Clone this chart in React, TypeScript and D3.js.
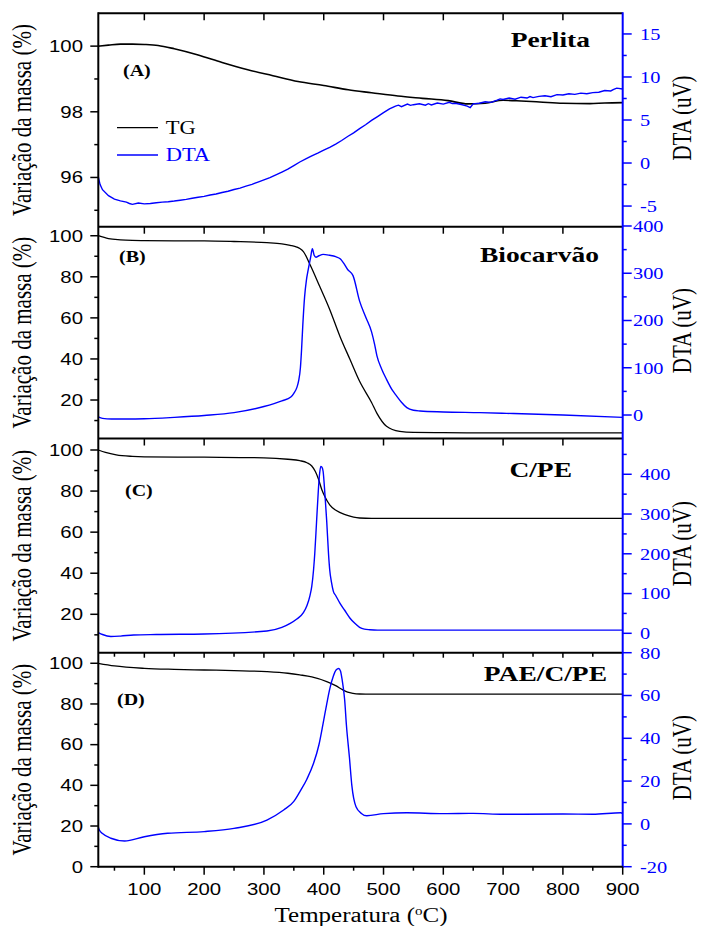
import React from "react";
import * as d3 from "d3";

// ---------- DATA ----------
const xTickValues = [100, 200, 300, 400, 500, 600, 700, 800, 900];
const xMinorValues = [50, 150, 250, 350, 450, 550, 650, 750, 850];

const panelTitles = ["Perlita", "Biocarvão", "C/PE", "PAE/C/PE"];
const panelLetters = ["(A)", "(B)", "(C)", "(D)"];

// Panel A – Perlita
const perlitaTgT = [23, 40, 60, 80, 100, 123, 150, 190, 230, 273, 315, 357, 400, 441, 480, 524, 565, 608, 641, 670, 700, 730, 761, 800, 845, 870, 900];
const perlitaTg = [100.0, 100.03, 100.06, 100.06, 100.05, 100.02, 99.92, 99.73, 99.5, 99.28, 99.1, 98.92, 98.8, 98.67, 98.58, 98.48, 98.41, 98.34, 98.24, 98.26, 98.35, 98.33, 98.3, 98.26, 98.25, 98.27, 98.28];
const perlitaDtaT = [23, 26, 30, 40, 50, 60, 70, 75, 80, 90, 100, 110, 120, 130, 140, 150, 160, 170, 180, 190, 200, 210, 220, 230, 240, 250, 260, 270, 280, 290, 300, 310, 320, 330, 340, 350, 360, 370, 380, 390, 400, 410, 420, 430, 440, 450, 460, 470, 480, 490, 500, 510, 520, 525, 530, 540, 545, 550, 560, 570, 575, 580, 590, 600, 610, 615, 620, 630, 640, 645, 650, 660, 670, 680, 690, 695, 700, 710, 720, 730, 740, 745, 750, 760, 770, 780, 790, 800, 810, 820, 830, 840, 850, 860, 870, 880, 885, 890, 900];
const perlitaDta = [-1.6, -2.5, -3.1, -3.8, -4.2, -4.4, -4.55, -4.7, -4.8, -4.65, -4.75, -4.7, -4.62, -4.55, -4.5, -4.42, -4.32, -4.22, -4.1, -3.98, -3.88, -3.72, -3.6, -3.42, -3.28, -3.08, -2.92, -2.68, -2.48, -2.22, -1.95, -1.7, -1.38, -1.05, -0.72, -0.3, 0.12, 0.48, 0.82, 1.15, 1.5, 1.82, 2.2, 2.62, 3.08, 3.5, 4.0, 4.45, 4.95, 5.4, 5.85, 6.3, 6.62, 6.72, 6.55, 6.85, 6.7, 6.78, 6.88, 6.72, 6.9, 6.75, 6.98, 6.85, 7.05, 6.9, 6.95, 6.8, 6.62, 6.45, 6.88, 6.95, 7.12, 7.05, 7.3, 7.45, 7.38, 7.55, 7.42, 7.65, 7.55, 7.72, 7.6, 7.75, 7.82, 7.7, 7.95, 7.9, 8.05, 7.98, 8.12, 8.05, 8.18, 8.22, 8.42, 8.38, 8.55, 8.7, 8.6];

// Panel B – Biocarvão
const bioTgT = [23, 40, 60, 80, 100, 150, 200, 250, 305, 330, 344, 355, 360, 366, 377, 393, 410, 427, 444, 460, 480, 489, 505, 527, 550, 600, 700, 800, 900];
const bioTg = [100, 98.6, 98.0, 97.7, 97.6, 97.5, 97.5, 97.2, 96.6, 96.0, 95.3, 94.5, 93.8, 92.3, 86.0, 75.5, 64.1, 51.1, 39.7, 29.1, 18.8, 13.5, 7.2, 4.7, 4.2, 4.1, 4.0, 4.0, 4.0];
const bioDtaT = [23, 30, 45, 70, 100, 150, 200, 250, 300, 330, 345, 350, 355, 358, 361, 363, 365, 368, 371, 374, 378, 381, 384, 387, 392, 399, 410, 420, 428, 433, 440, 449, 460, 470, 480, 485, 489, 497, 505, 515, 522, 530, 539, 550, 561, 600, 661, 706, 800, 900];
const bioDta = [-4, -7, -8.5, -8.5, -8, -5, -1, 5, 18, 30, 38, 46, 58, 72, 100, 140, 190, 250, 285, 307, 333, 352, 338, 334, 337, 340, 338, 335, 330, 322, 308, 295, 241, 208, 176, 150, 125, 97, 75.5, 52, 40, 27, 15.5, 10, 8.5, 6.5, 5, 3.5, 0, -5];

// Panel C – C/PE
const cpeTgT = [23, 35, 53, 80, 100, 200, 300, 340, 360, 372, 380, 386, 391, 397, 402, 410, 421, 437, 450, 460, 480, 600, 900];
const cpeTg = [100, 98.8, 97.6, 96.9, 96.7, 96.5, 96.2, 95.5, 94.8, 93.8, 92.2, 89.5, 86, 80.5, 77.2, 73.3, 70.5, 68.4, 67.3, 66.9, 66.7, 66.7, 66.7];
const cpeDtaT = [23, 30, 44, 60, 82, 120, 200, 305, 330, 344, 355, 366, 372, 377, 380, 383, 385, 388, 391, 393, 395, 397, 399, 402, 405, 408, 410, 413, 416, 420, 427, 435, 444, 452, 460, 468, 477, 490, 550, 700, 900];
const cpeDta = [2, -3, -8, -7, -4.3, -3, -1.8, 5.8, 15, 25, 36, 52, 70, 95, 118, 160, 200, 280, 360, 400, 420, 418, 407, 350, 282, 200, 160, 128, 106, 95, 76, 58, 38, 25, 15, 10.5, 9, 8, 8, 8, 8];

// Panel D – PAE/C/PE
const paeTgT = [23, 50, 100, 150, 200, 250, 305, 340, 360, 380, 405, 420, 432, 440, 449, 460, 480, 600, 900];
const paeTg = [100, 98.7, 97.5, 97.0, 96.7, 96.4, 95.9, 95.1, 94.3, 93.3, 91.0, 89.0, 86.9, 85.8, 85.2, 84.9, 84.8, 84.8, 84.8];
const paeDtaT = [23, 25, 30, 44, 67, 100, 139, 200, 250, 305, 333, 350, 360, 372, 383, 392, 399, 405, 410, 416, 421, 425, 428, 431, 435, 438, 443, 447, 454, 463, 472, 500, 539, 600, 650, 700, 800, 850, 897, 900];
const paeDta = [-1.5, -3, -4.5, -6.7, -8, -6, -4.4, -3.6, -2.1, 1.8, 6.5, 10.5, 15, 21, 28.3, 37, 47, 56, 63, 69, 72, 72.6, 71.5, 67, 58, 46, 31, 18, 8, 4.9, 3.8, 4.8, 5.2, 4.8, 4.9, 4.5, 4.6, 4.5, 5.2, 4.8];

// Axis tick values
const leftTicksA = [96, 98, 100];
const leftMinorA = [95, 97, 99];
const leftTicks = [20, 40, 60, 80, 100];
const leftMinor = [10, 30, 50, 70, 90];
const leftTicksD = [0, 20, 40, 60, 80, 100];
const rightTicksA = [-5, 0, 5, 10, 15];
const rightMinorA = [-2.5, 2.5, 7.5, 12.5];
const rightTicksB = [0, 100, 200, 300, 400];
const rightMinorB = [50, 150, 250, 350];
const rightTicksC = [0, 100, 200, 300, 400];
const rightMinorC = [50, 150, 250, 350, 450];
const rightTicksD = [-20, 0, 20, 40, 60, 80];
const rightMinorD = [-10, 10, 30, 50, 70];

// ---------- LAYOUT ----------
const W = 704;
const H = 926;
const XL = 98.3;
const XR = 622.7;
const BLUE = "#0000ff";
const SERIF = "'Liberation Serif', 'Times New Roman', serif";
const SANS = "'Liberation Sans', Arial, sans-serif";
const SX = 1.25;

const x = d3.scaleLinear().domain([23, 900]).range([XL, XR]);

type Panel = {
  top: number;
  bottom: number;
  left: [number, number];
  right: [number, number];
  lt: number[];
  lm: number[];
  rt: number[];
  rm: number[];
  tgT: number[];
  tg: number[];
  dT: number[];
  d: number[];
  letter: string;
  letterPos: [number, number];
  title: string;
  titlePos: [number, number];
  rightLabelX: number;
  noisy: boolean;
};

const panels: Panel[] = [
  { top: 13.3, bottom: 226.7, left: [94.5, 101.0], right: [-7.4, 17.4], lt: leftTicksA, lm: leftMinorA, rt: rightTicksA, rm: rightMinorA, tgT: perlitaTgT, tg: perlitaTg, dT: perlitaDtaT, d: perlitaDta, letter: panelLetters[0], letterPos: [123, 76], title: panelTitles[0], titlePos: [590, 47], rightLabelX: 640, noisy: true },
  { top: 226.7, bottom: 438.5, left: [1.26, 104.4], right: [-49.7, 398.5], lt: leftTicks, lm: leftMinor, rt: rightTicksB, rm: rightMinorB, tgT: bioTgT, tg: bioTg, dT: bioDtaT, d: bioDta, letter: panelLetters[1], letterPos: [119, 262], title: panelTitles[1], titlePos: [599, 262], rightLabelX: 633, noisy: false },
  { top: 438.5, bottom: 652.7, left: [1.3, 105.6], right: [-48.8, 490], lt: leftTicks, lm: leftMinor, rt: rightTicksC, rm: rightMinorC, tgT: cpeTgT, tg: cpeTg, dT: cpeDtaT, d: cpeDta, letter: panelLetters[2], letterPos: [125, 496], title: panelTitles[2], titlePos: [572, 477], rightLabelX: 640, noisy: false },
  { top: 652.7, bottom: 866.7, left: [0, 105.2], right: [-20, 80], lt: leftTicksD, lm: leftMinor, rt: rightTicksD, rm: rightMinorD, tgT: paeTgT, tg: paeTg, dT: paeDtaT, d: paeDta, letter: panelLetters[3], letterPos: [117, 705], title: panelTitles[3], titlePos: [607, 681], rightLabelX: 640, noisy: false },
];

function SText(props: {
  x: number;
  y: number;
  anchor?: string;
  size: number;
  family?: string;
  weight?: string | number;
  fill?: string;
  rotate?: boolean;
  children: React.ReactNode;
}) {
  const { x: tx, y: ty, anchor = "start", size, family = SERIF, weight = "normal", fill = "#000", rotate = false, children } = props;
  return (
    <text
      transform={`translate(${tx},${ty}) scale(${SX},1)${rotate ? " rotate(-90)" : ""}`}
      textAnchor={anchor}
      fontSize={size}
      fontFamily={family}
      fontWeight={weight}
      fill={fill}
    >
      {children}
    </text>
  );
}

function PanelView({ p, i }: { p: Panel; i: number }) {
  const yL = d3.scaleLinear().domain(p.left).range([p.bottom, p.top]);
  const yR = d3.scaleLinear().domain(p.right).range([p.bottom, p.top]);
  const curve = p.noisy ? d3.curveLinear : d3.curveMonotoneX;
  const tgLine = d3
    .line<number>()
    .x((_, k) => x(p.tgT[k]))
    .y((v) => yL(v))
    .curve(d3.curveMonotoneX);
  const dtaLine = d3
    .line<number>()
    .x((_, k) => x(p.dT[k]))
    .y((v) => yR(v))
    .curve(curve);
  const cy = (p.top + p.bottom) / 2;
  const clipId = `clip${i}`;
  const isLast = i === panels.length - 1;
  return (
    <g>
      <defs>
        <clipPath id={clipId}>
          <rect x={XL} y={p.top} width={XR - XL} height={p.bottom - p.top} />
        </clipPath>
      </defs>
      <g clipPath={`url(#${clipId})`}>
        <path d={tgLine(p.tg) || ""} fill="none" stroke="#000" strokeWidth={p.noisy ? 1.6 : 1.3} />
        <path d={dtaLine(p.d) || ""} fill="none" stroke={BLUE} strokeWidth={1.4} />
      </g>
      {/* top border with inward ticks */}
      <line x1={XL} x2={XR} y1={p.top} y2={p.top} stroke="#000" strokeWidth={2} />
      {xTickValues.filter((t) => t < 900).map((t) => (
        <line key={"tt" + t} x1={x(t)} x2={x(t)} y1={p.top} y2={p.top + (isLast ? 5 : 7)} stroke="#000" strokeWidth={1.5} />
      ))}
      {isLast &&
        xMinorValues.map((t) => (
          <line key={"tm" + t} x1={x(t)} x2={x(t)} y1={p.top} y2={p.top + 4} stroke="#000" strokeWidth={1.5} />
        ))}
      {/* left ticks */}
      {p.lt.map((v) => (
        <g key={"l" + v}>
          <line x1={XL - 8} x2={XL} y1={yL(v)} y2={yL(v)} stroke="#000" strokeWidth={1.5} />
          <SText x={83} y={yL(v) + 5.8} anchor="end" size={16.3} family={SANS}>
            {v}
          </SText>
        </g>
      ))}
      {p.lm.map((v) => (
        <line key={"lm" + v} x1={XL - 4} x2={XL} y1={yL(v)} y2={yL(v)} stroke="#000" strokeWidth={1.5} />
      ))}
      {/* right ticks */}
      {p.rt.map((v) => (
        <g key={"r" + v}>
          <line x1={XR} x2={XR + 9} y1={yR(v)} y2={yR(v)} stroke={BLUE} strokeWidth={1.5} />
          <SText x={p.rightLabelX} y={yR(v) + 5.8} anchor="start" size={16.3} fill={BLUE} family={SERIF}>
            {v}
          </SText>
        </g>
      ))}
      {p.rm.map((v) => (
        <line key={"rm" + v} x1={XR} x2={XR + 4} y1={yR(v)} y2={yR(v)} stroke={BLUE} strokeWidth={1.5} />
      ))}
      {/* axis titles */}
      <SText x={31} y={cy} anchor="middle" size={21} rotate>
        Variação da massa (%)
      </SText>
      <SText x={691} y={cy - 2} anchor="middle" size={21} rotate>
        DTA (uV)
      </SText>
      {/* panel labels */}
      <SText x={p.letterPos[0]} y={p.letterPos[1]} size={16} weight="bold">
        {p.letter}
      </SText>
      <SText x={p.titlePos[0]} y={p.titlePos[1]} anchor="end" size={22} weight="bold">
        {p.title}
      </SText>
    </g>
  );
}

export default function App() {
  const bottom = panels[panels.length - 1].bottom;
  const top = panels[0].top;
  return (
    <svg
      width={W}
      height={H}
      viewBox={`0 0 ${W} ${H}`}
      style={{ position: "absolute", left: 0, top: 0, background: "#fff" }}
    >
      <rect x={0} y={0} width={W} height={H} fill="#fff" />
      {panels.map((p, i) => (
        <PanelView key={i} p={p} i={i} />
      ))}
      {/* left spine */}
      <line x1={XL} x2={XL} y1={top - 1} y2={bottom + 1} stroke="#000" strokeWidth={2} />
      {/* right spine */}
      <line x1={XR} x2={XR} y1={top - 1} y2={bottom + 1} stroke={BLUE} strokeWidth={2} />
      {/* bottom axis */}
      <line x1={XL} x2={XR} y1={bottom} y2={bottom} stroke="#000" strokeWidth={2} />
      {xTickValues.map((t) => (
        <g key={"bx" + t}>
          <line x1={x(t)} x2={x(t)} y1={bottom} y2={bottom + 8} stroke="#000" strokeWidth={1.5} />
          <SText x={x(t)} y={895} anchor="middle" size={16.3} family={SANS}>
            {t}
          </SText>
        </g>
      ))}
      {xMinorValues.map((t) => (
        <line key={"bm" + t} x1={x(t)} x2={x(t)} y1={bottom} y2={bottom + 4} stroke="#000" strokeWidth={1.5} />
      ))}
      <SText x={361} y={922} anchor="middle" size={20}>
        Temperatura (<tspan dy={-7} fontSize={12}>o</tspan>
        <tspan dy={7}>C)</tspan>
      </SText>
      {/* legend in panel A */}
      <line x1={117} x2={158} y1={127.7} y2={127.7} stroke="#000" strokeWidth={1.3} />
      <SText x={165.7} y={133.5} size={18}>
        TG
      </SText>
      <line x1={117} x2={158} y1={155} y2={155} stroke={BLUE} strokeWidth={1.3} />
      <SText x={165.7} y={161} size={18} fill={BLUE}>
        DTA
      </SText>
    </svg>
  );
}
